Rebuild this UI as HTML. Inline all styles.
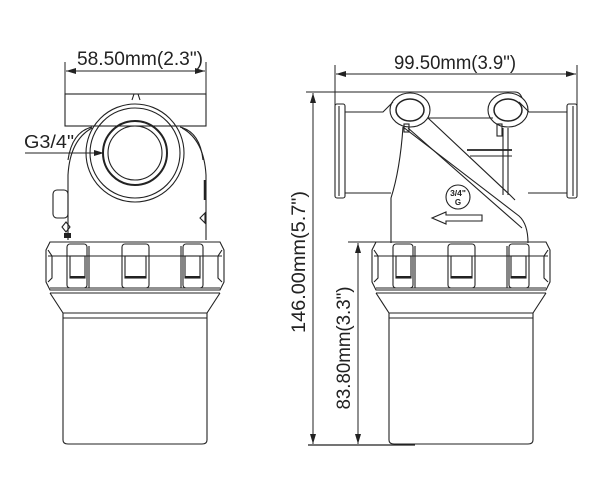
<!DOCTYPE html>
<html><head><style>
html,body{margin:0;padding:0;background:#fff;}
svg{display:block;}
text{font-family:"Liberation Sans",sans-serif;fill:#222;}
</style></head><body>
<svg width="607" height="477" viewBox="0 0 607 477" xmlns="http://www.w3.org/2000/svg">
<defs>
<marker id="ar" markerWidth="10" markerHeight="6" refX="10" refY="3" orient="auto" markerUnits="userSpaceOnUse">
<path d="M0,0 L10,3 L0,6 Z" fill="#222"/></marker>
<g id="bowl" fill="none" stroke="#222" stroke-width="1.1">
  <path d="M50,242 H220 L224,250 V282 L220,290 H50 L46,282 V250 Z"/>
  <line x1="48" y1="256" x2="222" y2="256"/>
  <line x1="50" y1="288" x2="220" y2="288"/>
  <line x1="50" y1="293" x2="220" y2="293"/>
  <path d="M50,293 L63,313 V440 Q63,444 68,444 H202 Q207,444 207,440 V313 L220,293"/>
  <line x1="63" y1="313" x2="207" y2="313"/>
  <line x1="63" y1="318" x2="207" y2="318"/>
  <rect x="67" y="244" width="20" height="44" rx="3"/>
  <rect x="70" y="256" width="15" height="22"/>
  <line x1="70" y1="277" x2="85" y2="277" stroke-width="2"/>
  <rect x="122" y="244" width="27" height="44" rx="3"/>
  <rect x="125" y="256" width="21" height="22"/>
  <line x1="125" y1="277" x2="146" y2="277" stroke-width="2"/>
  <rect x="183" y="244" width="20" height="44" rx="3"/>
  <rect x="185" y="256" width="15" height="22"/>
  <line x1="185" y1="277" x2="200" y2="277" stroke-width="2"/>
  <path d="M48,250 L52,256 V278 L48,282"/>
  <path d="M222,250 L218,256 V278 L222,282"/>
  <line x1="89" y1="246" x2="89" y2="288"/>
  <line x1="181" y1="246" x2="181" y2="288"/>
</g>
</defs>

<g fill="none" stroke="#222" stroke-width="1">
<line x1="65" y1="62" x2="65" y2="94"/>
<line x1="206" y1="62" x2="206" y2="94"/>
<line x1="75" y1="71" x2="66" y2="71" marker-end="url(#ar)"/>
<line x1="75" y1="71" x2="196" y2="71"/>
<line x1="196" y1="71" x2="205" y2="71" marker-end="url(#ar)"/>
</g>
<text x="140" y="65" font-size="19" text-anchor="middle" textLength="126" lengthAdjust="spacingAndGlyphs">58.50mm(2.3")</text>

<g fill="none" stroke="#222" stroke-width="1.1">
<rect x="65" y="94" width="141" height="32"/>
<path d="M132,100 L134,94 H138 L140,100"/>
<path d="M68,240 V175 Q70,140 92,128"/>
<path d="M206,240 V175 Q204,140 182,128"/>
<path d="M68,160 Q72,132 92,127"/><path d="M203,160 Q200,132 180,127"/>
<circle cx="135" cy="153" r="49"/>
<circle cx="135" cy="153" r="45"/>
<circle cx="135" cy="153" r="32" stroke-width="2"/>
<circle cx="135" cy="153" r="27"/>
<rect x="53" y="190" width="15" height="28" rx="4"/>
<path d="M66,222 L70,227 L66,232 L62,227 Z"/>
<path d="M200,218 L205,213 V223 Z"/>
<line x1="205" y1="180" x2="205" y2="200" stroke-width="2.5"/>
</g>
<line x1="25" y1="153" x2="94" y2="153" stroke="#222"/>
<line x1="85" y1="153" x2="104" y2="153" stroke="#222" marker-end="url(#ar)"/>
<text x="24" y="148" font-size="18" textLength="50" lengthAdjust="spacingAndGlyphs">G3/4"</text>
<rect x="64" y="233" width="7" height="5" fill="#222"/>

<use href="#bowl"/>
<use href="#bowl" transform="translate(326,0)"/>

<g fill="none" stroke="#222" stroke-width="1">
<line x1="335" y1="65" x2="335" y2="195"/>
<line x1="577" y1="65" x2="577" y2="195"/>
<line x1="345" y1="74" x2="336" y2="74" marker-end="url(#ar)"/>
<line x1="345" y1="74" x2="567" y2="74"/>
<line x1="567" y1="74" x2="576" y2="74" marker-end="url(#ar)"/>
<line x1="306" y1="92" x2="400" y2="92"/>
<line x1="308" y1="445" x2="415" y2="445" stroke-width="1.3"/>
<line x1="348" y1="242" x2="376" y2="242"/>
<line x1="313" y1="103" x2="313" y2="93" marker-end="url(#ar)"/>
<line x1="313" y1="103" x2="313" y2="434"/>
<line x1="313" y1="434" x2="313" y2="444" marker-end="url(#ar)"/>
<line x1="358" y1="253" x2="358" y2="243" marker-end="url(#ar)"/>
<line x1="358" y1="253" x2="358" y2="434"/>
<line x1="358" y1="434" x2="358" y2="444" marker-end="url(#ar)"/>
</g>
<text x="455" y="69" font-size="19" text-anchor="middle" textLength="122" lengthAdjust="spacingAndGlyphs">99.50mm(3.9")</text>
<text transform="translate(305,262) rotate(-90)" font-size="19" text-anchor="middle" textLength="142" lengthAdjust="spacingAndGlyphs">146.00mm(5.7")</text>
<text transform="translate(350,348) rotate(-90)" font-size="19" text-anchor="middle" textLength="123" lengthAdjust="spacingAndGlyphs">83.80mm(3.3")</text>

<g fill="none" stroke="#222" stroke-width="1.1">
<rect x="335" y="104" width="10" height="94" rx="2"/>
<rect x="567" y="104" width="10" height="94" rx="2"/>
<line x1="339" y1="106" x2="339" y2="196"/><line x1="573" y1="106" x2="573" y2="196"/>
<path d="M345,112 H383 L393,102"/>
<path d="M567,112 H529 L519,102"/>
<line x1="345" y1="193" x2="391" y2="193"/>
<line x1="528" y1="193" x2="567" y2="193"/>
<line x1="428" y1="118" x2="493" y2="118"/>
<path d="M398,92 H515 Q520,92 522,98"/>
<ellipse cx="410" cy="110" rx="20" ry="17"/>
<ellipse cx="410" cy="110" rx="14" ry="11" stroke-width="1.5"/>
<ellipse cx="508" cy="110" rx="20" ry="17"/>
<ellipse cx="508" cy="110" rx="14" ry="11" stroke-width="1.5"/>
<path d="M403,127 Q400,170 391,198 V243"/>
<path d="M403,127 L519,216 Q528,224 528,243"/>
<path d="M408,128 L522,228"/>
<path d="M428,118 L510,195 L515,200"/>
<rect x="404" y="124" width="5" height="8"/>
<rect x="497" y="124" width="5" height="12"/>
<line x1="503" y1="128" x2="503" y2="195"/><line x1="508" y1="128" x2="508" y2="195"/>
<line x1="467" y1="150" x2="512" y2="150" stroke-width="1.8"/>
<line x1="470" y1="156" x2="512" y2="156"/>
<circle cx="458" cy="197" r="12"/>
<path d="M482,215 H446 V212 L432,218 L446,224 V221 H482 Z"/>
</g>
<text x="458" y="196" font-size="8.5" font-weight="bold" text-anchor="middle">3/4"</text>
<text x="458" y="205" font-size="8" font-weight="bold" text-anchor="middle">G</text>
</svg>
</body></html>
